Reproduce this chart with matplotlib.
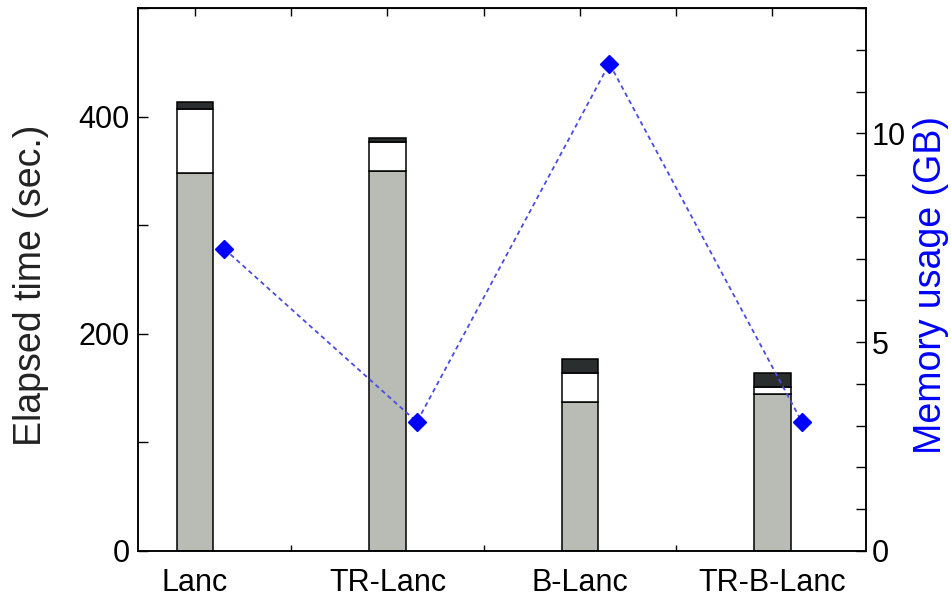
import matplotlib.pyplot as plt
import numpy as np
from matplotlib.ticker import MultipleLocator, FixedLocator, NullFormatter

plt.rcParams['font.family'] = ['Liberation Sans', 'DejaVu Sans']

methods = ["Lanc", "TR-Lanc", "B-Lanc", "TR-B-Lanc"]
# elapsed time split into three stacked parts (sec.)
time_base = [348, 350, 137.5, 145]
time_mid = [59, 27, 26.5, 6]
time_top = [6, 3.5, 12.5, 13]
memory_gb = [7.23, 3.09, 11.67, 3.09]

gray = "#b9bcb5"
dark = "#2b2e2e"
blue = "#0000ff"

fig = plt.figure(figsize=(9.51, 6.01), dpi=100)
ax = fig.add_axes([138 / 951, 50 / 601, 728 / 951, 543 / 601])

x = np.arange(len(methods))
w = 0.19
b1 = np.array(time_base)
b2 = b1 + np.array(time_mid)
ax.bar(x, time_base, w, color=gray, edgecolor="black", linewidth=1.1)
ax.bar(x, time_mid, w, bottom=b1, color="white", edgecolor="black", linewidth=1.1)
ax.bar(x, time_top, w, bottom=b2, color=dark, edgecolor="black", linewidth=1.1)

ax.set_xlim(-0.296, 3.486)
ax.set_ylim(0, 500)
ax.yaxis.set_major_locator(FixedLocator([0, 200, 400]))
ax.yaxis.set_minor_locator(MultipleLocator(100))
ax.tick_params(axis="y", which="both", direction="in", length=7, width=1,
               labelsize=22, pad=6)

# category labels on minor ticks, separators as major ticks
ax.xaxis.set_major_locator(FixedLocator([0.5, 1.5, 2.5]))
ax.xaxis.set_major_formatter(NullFormatter())
ax.xaxis.set_minor_locator(FixedLocator(x))
ax.set_xticklabels(methods, minor=True)
ax.tick_params(axis="x", which="major", direction="in", length=4, width=1)
ax.tick_params(axis="x", which="minor", length=0, labelsize=22, pad=12)

top = ax.secondary_xaxis("top")
top.set_xticks(list(x) + [0.5, 1.5, 2.5])
top.set_xticklabels([])
top.tick_params(direction="in", length=6, width=1)

ax.set_ylabel("Elapsed time (sec.)", fontsize=27, color="#222222")
ax.yaxis.set_label_coords(-0.122, 0.49)

ax2 = ax.twinx()
ax2.plot(x + 0.153, memory_gb, linestyle=(0, (2.5, 2)), color="#4a4ae6",
         linewidth=1.3, marker="D", markersize=9, markerfacecolor=blue,
         markeredgecolor=blue)
ax2.set_ylim(0, 13)
ax2.yaxis.set_major_locator(FixedLocator([0, 5, 10]))
ax2.yaxis.set_minor_locator(MultipleLocator(1))
ax2.tick_params(axis="y", which="both", direction="in", length=7, width=1,
                labelsize=22, pad=4)
ax2.set_ylabel("Memory usage (GB)", fontsize=27, color=blue)
ax2.yaxis.set_label_coords(1.0646, 0.49)

for a in (ax, ax2):
    for s in a.spines.values():
        s.set_linewidth(1.1)

fig.savefig("out.png", dpi=100)
